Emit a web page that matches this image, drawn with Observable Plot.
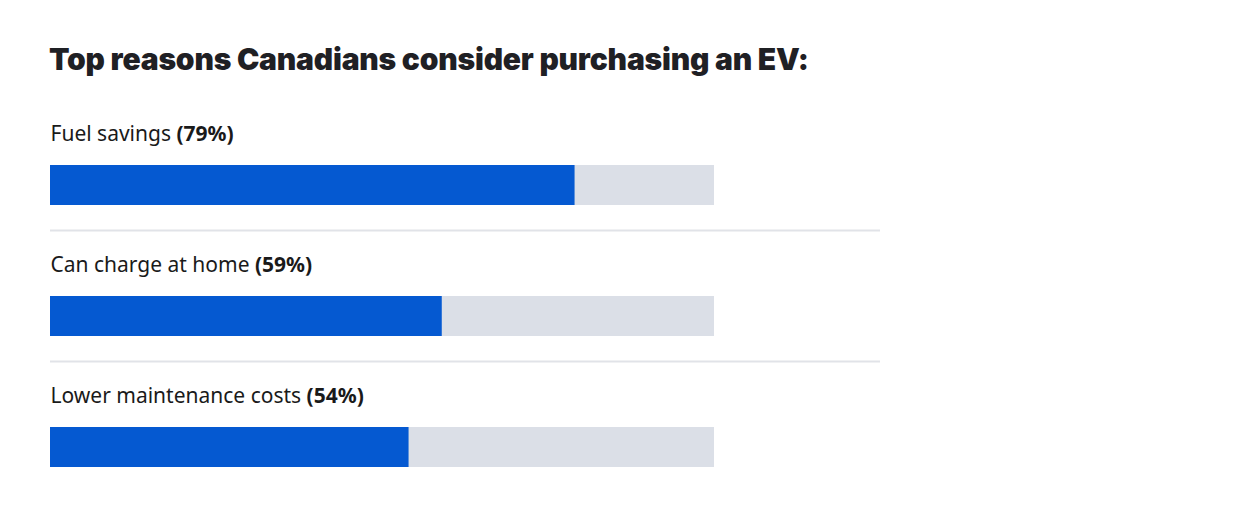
<!DOCTYPE html>
<html>
<head>
<meta charset="utf-8">
<script src="https://cdn.jsdelivr.net/npm/d3@7"></script>
<script src="https://cdn.jsdelivr.net/npm/@observablehq/plot@0.6"></script>
<style>
  html, body { margin: 0; padding: 0; background: #fff; }
  #wrap { position: relative; width: 1250px; height: 507px; overflow: hidden; background: #fff; }
  #chart { position: absolute; left: 0; top: 0; z-index: 1; }
  #title {
    position: absolute; left: 49px; top: 41px; margin: 0; z-index: 2; line-height: 36px;
    font-family: Inter, Roboto, sans-serif; font-weight: 900;
    font-size: 30px; letter-spacing: -0.2px; color: #1f2024; white-space: nowrap;
  }
</style>
</head>
<body>
<div id="wrap">
  <div id="chart"></div>
  <h2 id="title">Top reasons Canadians consider purchasing an EV:</h2>
</div>
<script>
const categories = ["Fuel savings", "Can charge at home", "Lower maintenance costs"];
const values = [79, 59, 54];
const valueLabels = ["(79%)", "(59%)", "(54%)"];

const rows = categories.map((c, i) => ({category: c, value: values[i], label: valueLabels[i]}));

const bandH = 131;
const chart = Plot.plot({
  width: 1250,
  height: 507,
  marginTop: 100,
  marginBottom: 14,
  marginLeft: 50,
  marginRight: 536,
  x: {domain: [0, 100], axis: null},
  y: {domain: categories, padding: 0, axis: null},
  style: {fontFamily: '"Noto Sans", "Open Sans", sans-serif', background: "transparent"},
  marks: [
    Plot.barX(rows, {y: "category", x1: 0, x2: 100, fill: "#dbdfe7", insetTop: 65, insetBottom: 26}),
    Plot.barX(rows, {y: "category", x1: 0, x2: "value", fill: "#0559d1", insetTop: 65, insetBottom: 26}),
    Plot.ruleY(rows.slice(0, 2), {y: "category", x1: 0, x2: 125, dy: bandH / 2 - 1, stroke: "#e1e3e8", strokeWidth: 2}),
    Plot.text(rows, {
      y: "category", x: 0, text: "category", textAnchor: "start", lineAnchor: "bottom",
      dy: 41 - bandH / 2 - 1, fontSize: 21, fill: "#1a1a1a",
      render(index, scales, values, dims, context, next) {
        const g = next(index, scales, values, dims, context);
        const texts = g.querySelectorAll("text");
        texts.forEach((t, k) => {
          const d = rows[index[k]];
          const ts = document.createElementNS("http://www.w3.org/2000/svg", "tspan");
          ts.setAttribute("font-weight", "700");
          ts.textContent = "\u00a0" + d.label;
          t.appendChild(ts);
        });
        return g;
      }
    })
  ]
});
document.getElementById("chart").appendChild(chart);
</script>
</body>
</html>
